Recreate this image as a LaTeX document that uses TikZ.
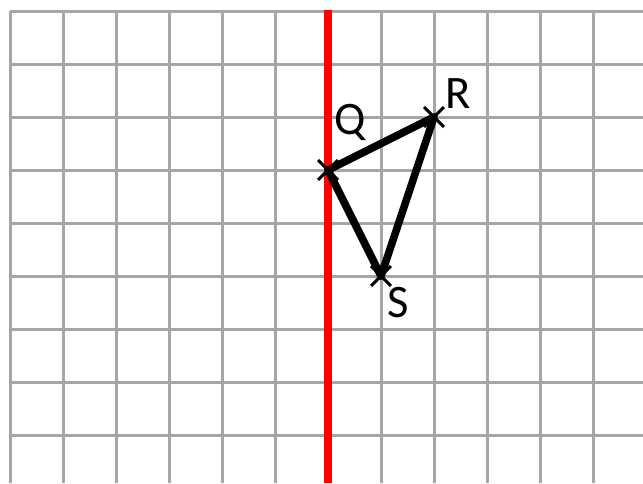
\documentclass[tikz,border=0pt]{standalone}
\usepackage{fontspec}
\setmainfont{Carlito}
\usepackage{tikz}
\usetikzlibrary{shapes.misc}

\begin{document}
\begin{tikzpicture}[
      gridline/.style={draw=black!35, line width=1.6pt},
      mirror/.style={draw=red, line width=4.3pt},
      side/.style={draw=black, line width=4.1pt, line join=round},
      cross/.style={draw, cross out, line width=1.6pt, minimum size=3.2mm, inner sep=0pt},
      lbl/.style={font=\fontsize{25}{29}\selectfont, inner sep=0pt}
    ]
    \useasboundingbox (-0.189,0.208) rectangle (11.943,-8.906);
    % squared paper
    \foreach \i in {0,...,11}
      \draw[gridline] (\i,0) -- (\i,-8.906);
    \foreach \j in {0,...,8}
      \draw[gridline] (0,-\j) -- (11.943,-\j);
    \coordinate (top) at (6,0.02);
    \coordinate (bot) at (6,-8.906);
    \draw[mirror] (top) -- (bot);
    % triangle QRS
    \coordinate (q) at (6,-3);
    \coordinate (r) at (8,-2);
    \coordinate (s) at (7,-5);
    \draw[side] (q) -- (r) -- (s) -- cycle;
    \node[cross] (cq) at (q) {};
    \node[cross] (cr) at (r) {};
    \node[cross] (cs) at (s) {};
    \node[lbl] (lq) at (6.42,-2.1) {Q};
    \node[lbl] (lr) at (8.45,-1.55) {R};
    \node[lbl] (ls) at (7.32,-5.5) {S};
  \end{tikzpicture}
\end{document}
